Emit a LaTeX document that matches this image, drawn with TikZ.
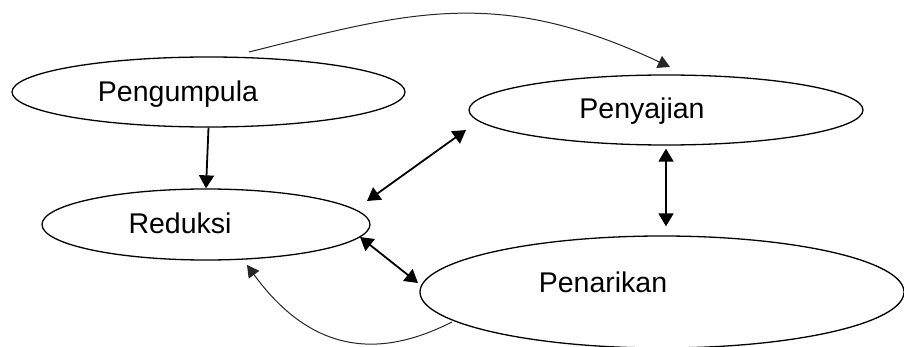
\documentclass[tikz,border=0pt]{standalone}
\usepackage{fontspec}
\setmainfont{Liberation Sans}
\usetikzlibrary{shapes.geometric,arrows.meta}
\tikzset{
  oval/.style={draw=black, line width=1.3pt, ellipse, inner sep=0pt, fill=white},
  lbl/.style={anchor=base, inner sep=0pt, font=\fontsize{28.5}{34}\selectfont},
  thickarrow/.style={line width=1.8pt, -{Triangle[width=15pt,length=13pt]}},
  thickboth/.style={line width=1.8pt, {Triangle[width=15pt,length=13pt]}-{Triangle[width=15pt,length=13pt]}},
  thinarrow/.style={line width=1pt, draw=black!85, -{Triangle[width=13pt,length=12pt]}}
}
\begin{document}
\begin{tikzpicture}[x=1pt,y=-1pt]
\path[use as bounding box, fill=white] (0,0) rectangle (904,347);
% ellipses
\node[oval, minimum width=393pt, minimum height=70pt] (pg) at (208.5,92) {};
\node[oval, minimum width=394pt, minimum height=70pt] (pj) at (666,110) {};
\node[oval, minimum width=328pt, minimum height=71pt] (rd) at (206,224.5) {};
\node[oval, minimum width=484pt, minimum height=112pt] (pn) at (662,292) {};
% labels
\node[lbl] (tpg) at (178,102) {Pengumpula};
\node[lbl] (tpj) at (642,119) {Penyajian};
\node[lbl] (trd) at (180,234) {Reduksi};
\node[lbl] (tpn) at (603,292) {Penarikan};
% connectors
\draw[thickarrow] (pg.south) -- (rd.north);
\draw[thickboth, shorten <=3pt, shorten >=9pt] (pj.south) -- (pj.south |- pn.north);
\draw[thickboth] ([shift={(161,-23.5)}]rd.center) -- ([shift={(-200,20)}]pj.center);
\draw[thickboth] ([shift={(154,12.5)}]rd.center) -- ([shift={(-244,-9)}]pn.center);
\draw[thinarrow] ([shift={(40.5,-40)}]pg.center) .. controls (409.8,11.8) and (497.2,-14.2) .. ([shift={(4,-43)}]pj.center);
\draw[thinarrow] ([shift={(-210,30)}]pn.center) .. controls (393.8,351.4) and (319.8,365) .. ([shift={(41,40.5)}]rd.center);
\end{tikzpicture}
\end{document}
